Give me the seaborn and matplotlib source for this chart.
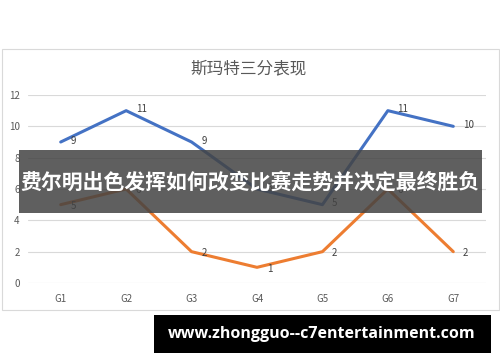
import matplotlib
matplotlib.use("Agg")
import matplotlib.pyplot as plt
from matplotlib.patches import Rectangle
import seaborn as sns
import pandas as pd

games = ["G1", "G2", "G3", "G4", "G5", "G6", "G7"]
blue_vals = [9, 11, 9, 6, 5, 11, 10]
orange_vals = [5, 6, 2, 1, 2, 6, 2]
y_ticks = [0, 2, 4, 6, 8, 10, 12]
title = "斯玛特三分表现"
banner_text = "费尔明出色发挥如何改变比赛走势并决定最终胜负"
url_text = "www.zhongguo--c7entertainment.com"

sns.set_theme(style="white")
plt.rcParams['font.family'] = ['Noto Sans CJK SC', 'DejaVu Sans']

df = pd.DataFrame({
    "game": games * 2,
    "value": blue_vals + orange_vals,
    "series": ["blue"] * len(games) + ["orange"] * len(games),
})
df["x"] = list(range(len(games))) * 2

W, H = 500, 362
fig = plt.figure(figsize=(W / 100, H / 100), dpi=100)
fig.patch.set_facecolor("white")

# chart frame
fig.add_artist(Rectangle((2 / W, 1 - 310 / H), 497 / W, 261 / H, transform=fig.transFigure,
                         facecolor="white", edgecolor="#d9d9d9", linewidth=0.8, zorder=0))

ax = fig.add_axes([28 / W, 1 - 283 / H, 458 / W, 188 / H])
ax.set_facecolor("none")
palette = {"blue": "#4472C4", "orange": "#ED7D31"}
sns.lineplot(data=df, x="x", y="value", hue="series", palette=palette, ax=ax,
             linewidth=2.2, legend=False, sort=False)

ax.set_xlim(-0.5, len(games) - 0.5)
ax.set_ylim(0, 12)
ax.set_yticks(y_ticks)
ax.set_yticklabels([str(t) for t in y_ticks], fontsize=7, color="#595959")
ax.set_xticks(range(len(games)))
ax.set_xticklabels(games, fontsize=7, color="#595959")
ax.tick_params(axis="x", length=0, pad=8)
ax.tick_params(axis="y", length=0, pad=6)
ax.grid(axis="y", color="#d9d9d9", linewidth=0.8)
ax.set_axisbelow(True)
for s in ax.spines.values():
    s.set_visible(False)
ax.set_xlabel("")
ax.set_ylabel("")

for i, v in enumerate(blue_vals):
    ax.annotate(str(v), (i, v), xytext=(7, 1), textcoords="offset points",
                fontsize=7, color="#404040", va="center", ha="left")
for i, v in enumerate(orange_vals):
    ax.annotate(str(v), (i, v), xytext=(7, -1), textcoords="offset points",
                fontsize=7, color="#404040", va="center", ha="left")

fig.text(249 / W, 1 - 69 / H, title, fontsize=12, color="#595959", ha="center", va="center")

# banner overlay
fig.add_artist(Rectangle((19 / W, 1 - 213 / H), 463 / W, 63 / H, transform=fig.transFigure,
                         facecolor="#434343", alpha=0.85, edgecolor="none", zorder=5))
fig.text(250 / W, 1 - 182 / H, banner_text, fontsize=15, fontweight="bold", color="white",
         ha="center", va="center", zorder=6)

# url box
fig.add_artist(Rectangle((154 / W, 1 - 353 / H), 337 / W, 38 / H, transform=fig.transFigure,
                         facecolor="black", edgecolor="none", zorder=5))
fig.text(322 / W, 1 - 334 / H, url_text, fontsize=11.5, fontweight="bold", color="white",
         ha="center", va="center", zorder=6, family=["Open Sans", "DejaVu Sans"])

fig.savefig("out.png", dpi=100)
